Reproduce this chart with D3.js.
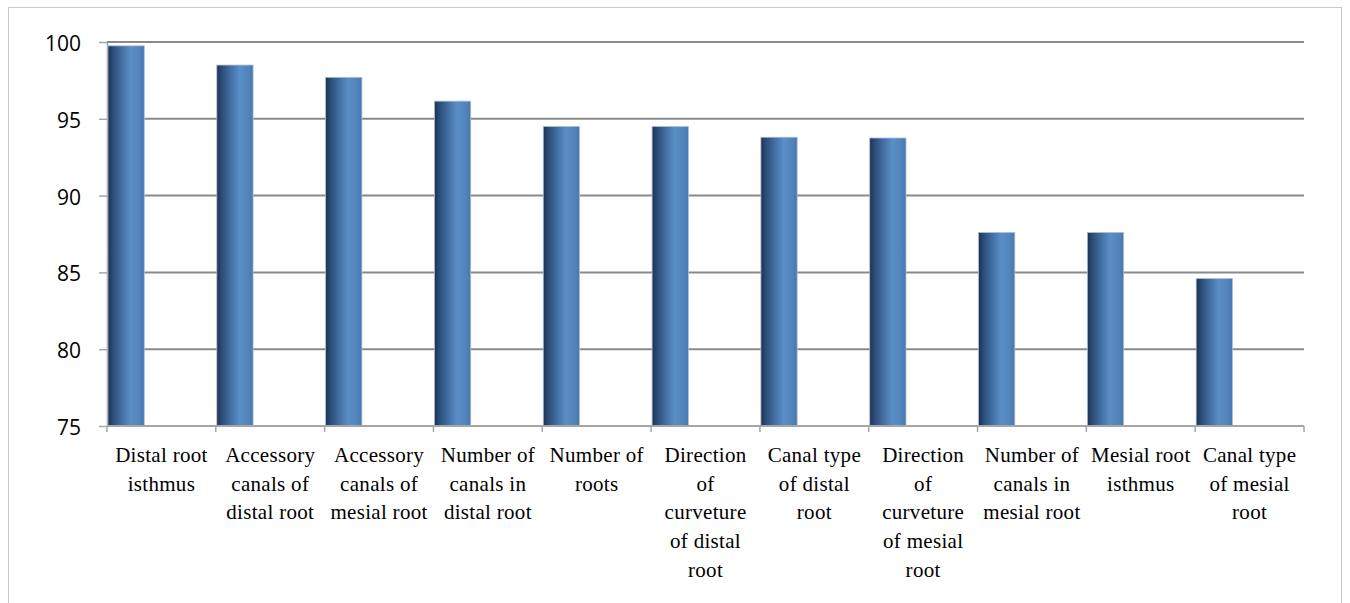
<!DOCTYPE html>
<html>
<head>
<meta charset="utf-8">
<script src="https://cdn.jsdelivr.net/npm/d3@7"></script>
<style>
  html, body { margin: 0; padding: 0; background: #fff; }
  svg { display: block; }
</style>
</head>
<body>
<div id="chart"></div>
<script>
// Data
const categories = [
  'Distal root isthmus',
  'Accessory canals of distal root',
  'Accessory canals of mesial root',
  'Number of canals in distal root',
  'Number of roots',
  'Direction of curveture of distal root',
  'Canal type of distal root',
  'Direction of curveture of mesial root',
  'Number of canals in mesial root',
  'Mesial root isthmus',
  'Canal type of mesial root'
];
const labelLines = [
  ['Distal root', 'isthmus'],
  ['Accessory', 'canals of', 'distal root'],
  ['Accessory', 'canals of', 'mesial root'],
  ['Number of', 'canals in', 'distal root'],
  ['Number of', 'roots'],
  ['Direction', 'of', 'curveture', 'of distal', 'root'],
  ['Canal type', 'of distal', 'root'],
  ['Direction', 'of', 'curveture', 'of mesial', 'root'],
  ['Number of', 'canals in', 'mesial root'],
  ['Mesial root', 'isthmus'],
  ['Canal type', 'of mesial', 'root']
];
const values = [99.75, 98.5, 97.7, 96.15, 94.5, 94.5, 93.8, 93.75, 87.6, 87.6, 84.6];
const yTicks = [75, 80, 85, 90, 95, 100];

const width = 1350, height = 603;
const plot = { left: 107, right: 1304, top: 42, bottom: 426 };

const svg = d3.select('#chart').append('svg')
  .attr('width', width)
  .attr('height', height);

// Bar gradient
const defs = svg.append('defs');
const grad = defs.append('linearGradient')
  .attr('id', 'barGrad')
  .attr('x1', '0%').attr('x2', '100%')
  .attr('y1', '0%').attr('y2', '0%');
[
  [0, '#1b3150'],
  [0.12, '#2a4a73'],
  [0.35, '#3f6b9f'],
  [0.62, '#5a8ec6'],
  [0.85, '#5385bd'],
  [1, '#4877ad']
].forEach(([o, c]) => grad.append('stop').attr('offset', o).attr('stop-color', c));

// Chart frame
svg.append('rect')
  .attr('x', 8.5).attr('y', 7.5)
  .attr('width', 1333).attr('height', 640)
  .attr('fill', 'none')
  .attr('stroke', '#c9c9c9')
  .attr('stroke-width', 1);

const x = d3.scaleBand()
  .domain(categories)
  .range([plot.left, plot.right])
  .paddingInner(0).paddingOuter(0);

const y = d3.scaleLinear()
  .domain([75, 100])
  .range([plot.bottom, plot.top]);

// Gridlines
svg.append('g')
  .selectAll('line')
  .data(yTicks.filter(t => t > 75))
  .enter().append('line')
  .attr('x1', plot.left).attr('x2', plot.right)
  .attr('y1', d => y(d)).attr('y2', d => y(d))
  .attr('stroke', '#8a8a8a')
  .attr('stroke-width', 2);

// Y axis
const yAxis = svg.append('g')
  .attr('transform', `translate(${plot.left},0)`)
  .call(d3.axisLeft(y).tickValues(yTicks).tickSize(8).tickPadding(18).tickSizeOuter(0));
yAxis.select('.domain').attr('stroke', '#a6a6a6').attr('stroke-width', 1.5);
yAxis.selectAll('.tick line').attr('stroke', '#a6a6a6').attr('stroke-width', 1.5);
yAxis.selectAll('.tick text')
  .attr('font-family', '"Open Sans", sans-serif')
  .attr('font-size', 21)
  .attr('fill', '#000')
  .attr('dy', '0.4em');

// Bars
const bw = x.bandwidth() / 3;
svg.append('g')
  .selectAll('rect')
  .data(values)
  .enter().append('rect')
  .attr('x', (d, i) => x(categories[i]) + 1)
  .attr('y', d => y(d))
  .attr('width', bw)
  .attr('height', d => y(75) - y(d))
  .attr('fill', 'url(#barGrad)')
  .attr('stroke', '#aebfd3')
  .attr('stroke-width', 0.8);

// X axis
const xAxis = svg.append('g')
  .attr('transform', `translate(0,${plot.bottom})`);
xAxis.append('line')
  .attr('x1', plot.left).attr('x2', plot.right)
  .attr('stroke', '#a6a6a6').attr('stroke-width', 2);
const bounds = categories.map(c => x(c)).concat([plot.right]);
xAxis.selectAll('line.tick')
  .data(bounds)
  .enter().append('line')
  .attr('class', 'tick')
  .attr('x1', d => d).attr('x2', d => d)
  .attr('y1', 0).attr('y2', 6)
  .attr('stroke', '#a6a6a6').attr('stroke-width', 1.5);

const labels = xAxis.selectAll('text.cat')
  .data(labelLines)
  .enter().append('text')
  .attr('class', 'cat')
  .attr('text-anchor', 'middle')
  .attr('font-family', '"Liberation Serif", "Times New Roman", serif')
  .attr('font-size', 21)
  .attr('letter-spacing', 0.3)
  .attr('fill', '#000')
  .attr('transform', (d, i) => `translate(${x(categories[i]) + x.bandwidth() / 2},36)`);
labels.selectAll('tspan')
  .data(d => d)
  .enter().append('tspan')
  .attr('x', 0)
  .attr('y', (d, i) => i * 28.7)
  .text(d => d);
</script>
</body>
</html>
